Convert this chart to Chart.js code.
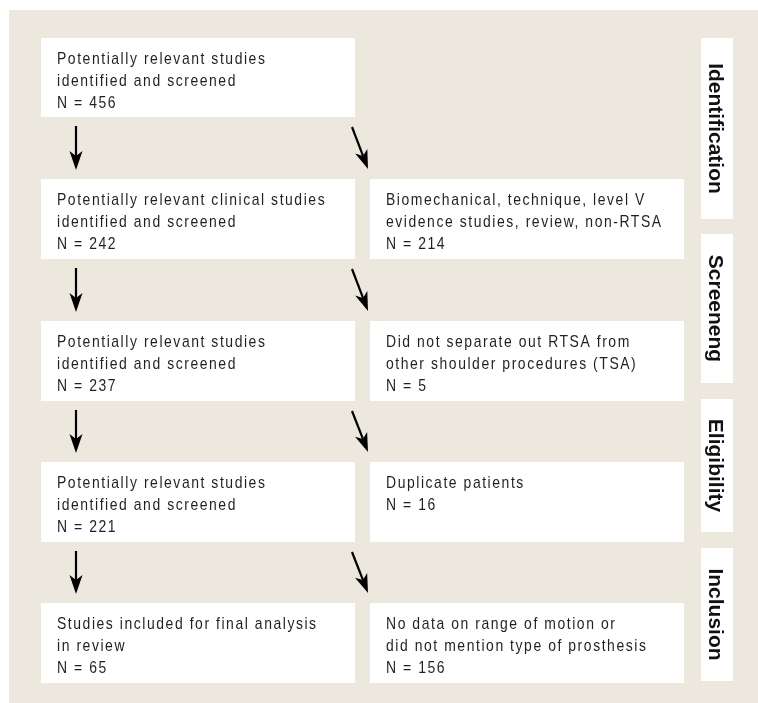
<!DOCTYPE html>
<html lang="en">
<head>
<meta charset="utf-8">
<title>Study selection flow</title>
<script src="https://cdn.jsdelivr.net/npm/chart.js@4.4.0/dist/chart.umd.min.js"></script>
<style>
  html, body { margin: 0; padding: 0; background: #fff; }
</style>
</head>
<body>
<canvas id="flow" width="758" height="703"></canvas>
<script>
// stage names down the right side
const stages = ['Identification', 'Screeneng', 'Eligibility', 'Inclusion'];

// studies kept at each step (left column)
const keptText = [
  ['Potentially relevant studies', 'identified and screened'],
  ['Potentially relevant clinical studies', 'identified and screened'],
  ['Potentially relevant studies', 'identified and screened'],
  ['Potentially relevant studies', 'identified and screened'],
  ['Studies included for final analysis', 'in review']
];
const keptN = [456, 242, 237, 221, 65];

// studies dropped at each step (right column), none at the first step
const droppedText = [
  null,
  ['Biomechanical, technique, level V', 'evidence studies, review, non-RTSA'],
  ['Did not separate out RTSA from', 'other shoulder procedures (TSA)'],
  ['Duplicate patients'],
  ['No data on range of motion or', 'did not mention type of prosthesis']
];
const droppedN = [null, 214, 5, 16, 156];

// layout, in scale units (1 unit = 1 px here)
const panel = { x0: 9, x1: 758, y0: 10, y1: 703 };
const rowTop = [38, 179, 321, 462, 603];
const rowH = 80;
const leftCol = { x0: 41, x1: 355 };
const rightCol = { x0: 370, x1: 684 };
const stageCol = { x0: 701, x1: 733 };
const stageBand = [[38, 219], [234, 383], [399, 532], [548, 681]];

const BG = '#ece8de';
const INK = '#231f20';
// no condensed face installed: squeeze Liberation Sans and open up the tracking
const BODY_FONT = '17px "Liberation Sans", Arial, sans-serif';
const SQUEEZE = 0.82;
const STAGE_FONT = 'bold 21px "Liberation Sans", Arial, sans-serif';

function arrow(ctx, x0, y0, x1, y1) {
  const a = Math.atan2(y1 - y0, x1 - x0);
  const len = 19, half = 6.5, notch = 5;
  const bx = x1 - Math.cos(a) * (len - notch), by = y1 - Math.sin(a) * (len - notch);
  ctx.beginPath();
  ctx.moveTo(x0, y0);
  ctx.lineTo(bx, by);
  ctx.lineWidth = 2.2;
  ctx.strokeStyle = '#000';
  ctx.stroke();
  const cx = x1 - Math.cos(a) * len, cy = y1 - Math.sin(a) * len;
  const px = -Math.sin(a), py = Math.cos(a);
  ctx.beginPath();
  ctx.moveTo(x1, y1);
  ctx.lineTo(cx + px * half, cy + py * half);
  ctx.lineTo(bx, by);
  ctx.lineTo(cx - px * half, cy - py * half);
  ctx.closePath();
  ctx.fillStyle = '#000';
  ctx.fill();
}

const flowPlugin = {
  id: 'flow',
  beforeDatasetsDraw(chart) {
    const ctx = chart.ctx;
    const sx = chart.scales.x, sy = chart.scales.y;
    const X = v => sx.getPixelForValue(v);
    const Y = v => sy.getPixelForValue(v);

    ctx.save();
    // panel
    ctx.fillStyle = BG;
    ctx.fillRect(X(panel.x0), Y(panel.y0), X(panel.x1) - X(panel.x0), Y(panel.y1) - Y(panel.y0));

    function box(col, i, lines, n) {
      const top = Y(rowTop[i]);
      const h = Y(rowTop[i] + (i === 0 ? rowH - 1 : rowH)) - top;
      ctx.fillStyle = '#fff';
      ctx.fillRect(X(col.x0), top, X(col.x1) - X(col.x0), h);
      const all = lines.concat(['N = ' + n]);
      all.forEach((t, k) => {
        ctx.save();
        ctx.translate(X(col.x0) + 16, top + 26 + k * 22);
        ctx.scale(SQUEEZE, 1);
        ctx.fillStyle = INK;
        ctx.font = BODY_FONT;
        ctx.letterSpacing = '1.9px';
        ctx.textAlign = 'left';
        ctx.textBaseline = 'alphabetic';
        ctx.fillText(t, 0, 0);
        ctx.restore();
      });
    }

    keptText.forEach((lines, i) => box(leftCol, i, lines, keptN[i]));
    droppedText.forEach((lines, i) => { if (lines) box(rightCol, i, lines, droppedN[i]); });

    // arrows between rows
    for (let i = 0; i < rowTop.length - 1; i++) {
      const yb = rowTop[i] + (i === 0 ? rowH - 1 : rowH);
      const yt = rowTop[i + 1];
      arrow(ctx, X(76), Y(yb + 9), X(76), Y(yt - 9));
      arrow(ctx, X(352), Y(yb + 10), X(368), Y(yt - 10));
    }

    // stage labels
    stages.forEach((s, i) => {
      const [a, b] = stageBand[i];
      ctx.fillStyle = '#fff';
      ctx.fillRect(X(stageCol.x0), Y(a), X(stageCol.x1) - X(stageCol.x0), Y(b) - Y(a));
      ctx.save();
      ctx.translate(X((stageCol.x0 + stageCol.x1) / 2), Y((a + b) / 2));
      ctx.rotate(Math.PI / 2);
      ctx.fillStyle = '#111';
      ctx.font = STAGE_FONT;
      ctx.textAlign = 'center';
      ctx.textBaseline = 'alphabetic';
      ctx.fillText(s, 0, 8);
      ctx.restore();
    });
    ctx.restore();
  }
};

new Chart(document.getElementById('flow'), {
  type: 'scatter',
  data: { datasets: [{ data: [], pointRadius: 0 }] },
  options: {
    responsive: false,
    animation: false,
    layout: { padding: 0 },
    plugins: { legend: { display: false }, tooltip: { enabled: false } },
    scales: {
      x: { type: 'linear', min: 0, max: 758, display: false },
      y: { type: 'linear', min: 0, max: 703, reverse: true, display: false }
    }
  },
  plugins: [flowPlugin]
});
</script>
</body>
</html>
